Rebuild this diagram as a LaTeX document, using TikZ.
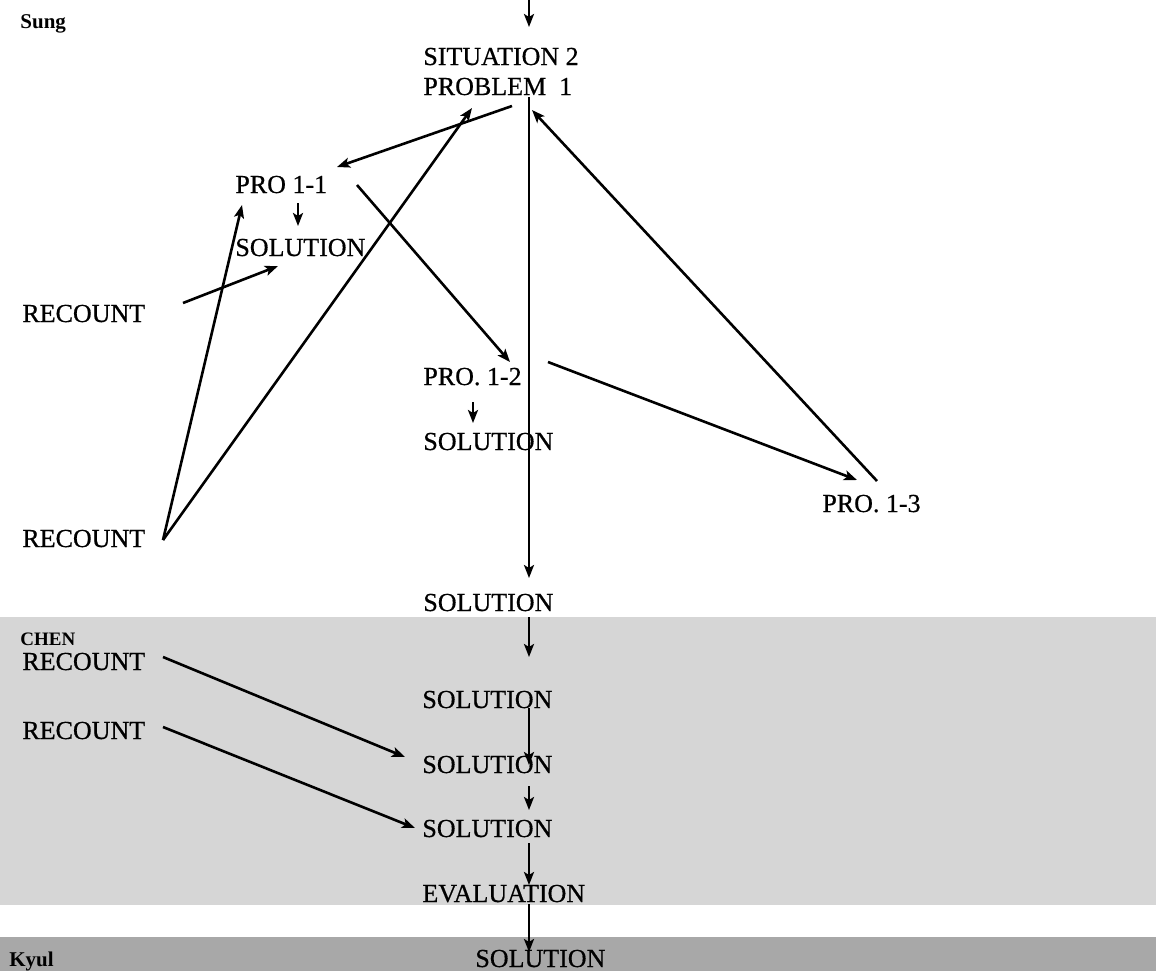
\documentclass[tikz,border=0pt]{standalone}
\usepackage{fontspec}
\setmainfont{Liberation Serif}
\newfontfamily\scanfont{Liberation Serif}[FakeBold=0.6]
\usetikzlibrary{arrows.meta}
\begin{document}
\begin{tikzpicture}[x=0.5pt,y=-0.5pt,
  lbl/.style={inner sep=0pt, anchor=base west, font=\scanfont\fontsize{13pt}{15pt}\selectfont},
  who/.style={inner sep=0pt, anchor=base west, font=\fontsize{10.5pt}{12pt}\selectfont\bfseries},
  conn/.style={line width=1.3pt, -{Stealth[length=6.5pt,width=5pt,inset=1.5pt]}},
  lightband/.style={fill=black!16},
  darkband/.style={fill=black!34}]
\useasboundingbox (0,0) rectangle (1156,971);
% background bands
\fill[lightband] (0,617) rectangle (1156,905);
\fill[darkband] (0,937) rectangle (1156,971);
% group labels
\node[who] (sung) at (20,28) {Sung};
\node[who, font=\fontsize{9.5pt}{11pt}\selectfont\bfseries] (chen) at (20,645) {CHEN};
\node[who] (kyul) at (9,966) {Kyul};
% Sung part
\node[lbl] (sit) at (423,65) {SITUATION 2};
\node[lbl] (prob) at (423,95) {PROBLEM\ \ 1};
\node[lbl] (p11) at (235,193) {PRO 1-1};
\node[lbl] (s11) at (235,256) {SOLUTION};
\node[lbl] (rc1) at (22,322) {RECOUNT};
\node[lbl] (p12) at (423,385) {PRO. 1-2};
\node[lbl] (s12) at (423,450) {SOLUTION};
\node[lbl] (p13) at (822,512) {PRO. 1-3};
\node[lbl] (rc2) at (22,547) {RECOUNT};
\node[lbl] (sm) at (423,611) {SOLUTION};
% Chen part
\node[lbl] (rc3) at (22,670) {RECOUNT};
\node[lbl] (s2) at (422,708) {SOLUTION};
\node[lbl] (rc4) at (22,739) {RECOUNT};
\node[lbl] (s3) at (422,773) {SOLUTION};
\node[lbl] (s4) at (422,837) {SOLUTION};
\node[lbl] (ev) at (422,902) {EVALUATION};
% Kyul part
\node[lbl] (sk) at (475,967) {SOLUTION};
% connector end points
\coordinate (in0) at (529,0);
\coordinate (in1) at (529,27);
\coordinate (m0) at (529,97);
\coordinate (m1) at (529,578);
\coordinate (a1) at (512,106);
\coordinate (b1) at (337,167);
\coordinate (a2) at (357,185);
\coordinate (b2) at (510,362);
\coordinate (a3) at (548,362);
\coordinate (b3) at (857,480);
\coordinate (a4) at (877,481);
\coordinate (b4) at (532,110);
\coordinate (r2) at (163,540);
\coordinate (b5) at (242,205);
\coordinate (b6) at (472,108);
\coordinate (a7) at (183,303);
\coordinate (b7) at (278,266);
\coordinate (a8) at (298,203);
\coordinate (b8) at (298,226);
\coordinate (a9) at (473,402);
\coordinate (b9) at (473,423);
\coordinate (a10) at (529,617);
\coordinate (b10) at (529,657);
\coordinate (a11) at (529,708);
\coordinate (b11) at (529,765);
\coordinate (a12) at (529,786);
\coordinate (b12) at (529,810);
\coordinate (a13) at (529,843);
\coordinate (b13) at (529,885);
\coordinate (a14) at (529,904);
\coordinate (b14) at (529,952);
\coordinate (a15) at (163,657);
\coordinate (b15) at (405,757);
\coordinate (a16) at (163,727);
\coordinate (b16) at (415,828);
% connectors
\draw[conn] (in0) -- (in1);
\draw[conn] (m0) -- (m1);
\draw[conn] (a1) -- (b1);
\draw[conn] (a2) -- (b2);
\draw[conn] (a3) -- (b3);
\draw[conn] (a4) -- (b4);
\draw[conn] (r2) -- (b5);
\draw[conn] (r2) -- (b6);
\draw[conn] (a7) -- (b7);
\draw[conn] (a8) -- (b8);
\draw[conn] (a9) -- (b9);
\draw[conn] (a10) -- (b10);
\draw[conn] (a11) -- (b11);
\draw[conn] (a12) -- (b12);
\draw[conn] (a13) -- (b13);
\draw[conn] (a14) -- (b14);
\draw[conn] (a15) -- (b15);
\draw[conn] (a16) -- (b16);
\end{tikzpicture}
\end{document}
